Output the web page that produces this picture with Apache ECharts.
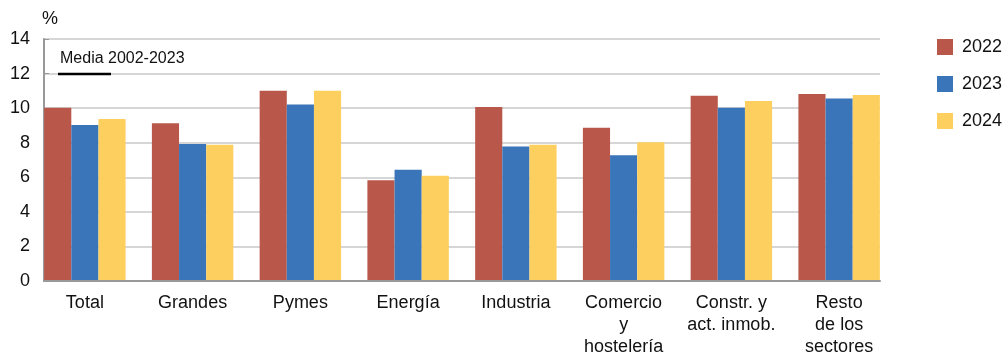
<!DOCTYPE html>
<html>
<head>
<meta charset="utf-8">
<script src="https://cdn.jsdelivr.net/npm/echarts@6/dist/echarts.min.js"></script>
<style>
  html, body { margin: 0; padding: 0; background: #fff; }
  #chart { width: 1004px; height: 358px; }
</style>
</head>
<body>
<div id="chart"></div>
<script>
// categorías del eje x
const categories = [
  "Total", "Grandes", "Pymes", "Energía", "Industria",
  "Comercio\ny\nhostelería", "Constr. y\nact. inmob.", "Resto\nde los\nsectores"
];
const yearNames = ["2022", "2023", "2024"];
const values2022 = [10.0, 9.1, 11.0, 5.8, 10.05, 8.85, 10.7, 10.8];
const values2023 = [9.0, 7.9, 10.2, 6.4, 7.75, 7.25, 10.0, 10.55];
const values2024 = [9.35, 7.85, 11.0, 6.05, 7.85, 8.0, 10.4, 10.75];
const yTicks = [0, 2, 4, 6, 8, 10, 12, 14];

const colors = ["#B9584A", "#3A74B9", "#FDCF5F"];
const font = "Liberation Sans, Arial, sans-serif";

const chart = echarts.init(document.getElementById("chart"));

const seriesData = [values2022, values2023, values2024];

chart.setOption({
  animation: false,
  textStyle: { fontFamily: font },
  // grid 0: marco visible (ejes y líneas), grid 1: barras con medio hueco fuera del eje
  grid: [
    { left: 44, right: 124, top: 39, bottom: 77 },
    { left: 31, right: 111, top: 39, bottom: 77 }
  ],
  legend: {
    orient: "vertical",
    left: 932,
    top: 33,
    itemWidth: 16,
    itemHeight: 16,
    itemGap: 19,
    icon: "rect",
    textStyle: { fontSize: 18, color: "#111", fontFamily: font, padding: [0, 0, 0, 4] },
    data: yearNames
  },
  xAxis: [
    {
      gridIndex: 0,
      type: "value",
      min: 0,
      max: 1,
      axisLine: { show: true, onZero: false, lineStyle: { color: "#999", width: 2 } },
      axisTick: { show: false },
      axisLabel: { show: false },
      splitLine: { show: false }
    },
    {
      gridIndex: 1,
      type: "category",
      data: categories,
      axisLine: { show: false },
      axisTick: { show: false },
      axisLabel: { fontSize: 18, color: "#111", lineHeight: 22, margin: 12, interval: 0 }
    }
  ],
  yAxis: [
    {
      gridIndex: 0,
      type: "value",
      min: yTicks[0],
      max: yTicks[yTicks.length - 1],
      interval: 2,
      name: "%",
      nameLocation: "end",
      nameGap: 11,
      nameTextStyle: { fontSize: 18, color: "#111", align: "left", padding: [0, 0, 0, -2] },
      axisLine: { show: true, lineStyle: { color: "#999", width: 2 } },
      axisTick: { show: true, inside: true, length: 5, lineStyle: { color: "#999" } },
      axisLabel: { fontSize: 18, color: "#111", margin: 14, align: "right" },
      splitLine: { lineStyle: { color: "#c8c8c8", width: 1.5 } }
    },
    {
      gridIndex: 1,
      type: "value",
      min: yTicks[0],
      max: yTicks[yTicks.length - 1],
      show: false,
      splitLine: { show: false }
    }
  ],
  graphic: [
    {
      type: "text",
      left: 60,
      top: 51,
      z: 100,
      style: { text: "Media 2002-2023", fontSize: 16, fill: "#111", fontFamily: font }
    },
    {
      type: "line",
      z: 100,
      shape: { x1: 58, y1: 74, x2: 111, y2: 74 },
      style: { stroke: "#000", lineWidth: 2.5 }
    }
  ],
  series: yearNames.map((name, i) => ({
    name: name,
    type: "bar",
    xAxisIndex: 1,
    yAxisIndex: 1,
    data: seriesData[i],
    barGap: "0%",
    barCategoryGap: "24.4%",
    itemStyle: { color: colors[i] }
  }))
});
</script>
</body>
</html>
